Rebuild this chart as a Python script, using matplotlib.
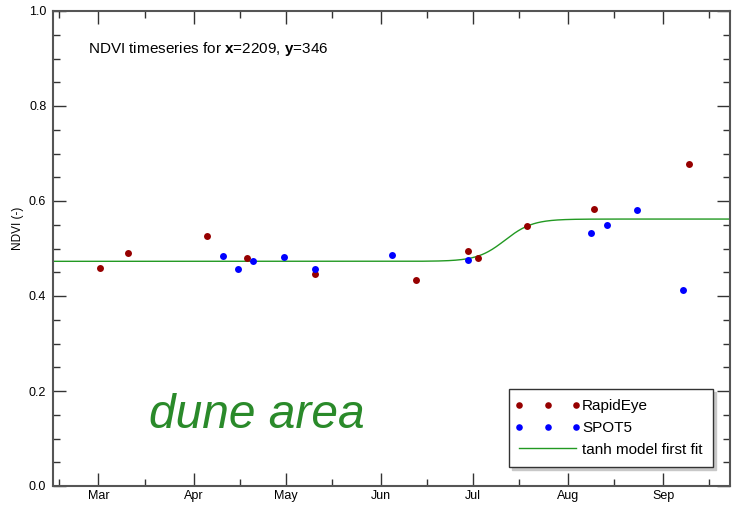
import datetime as dt

import numpy as np
import matplotlib
matplotlib.use('Agg')
import matplotlib.pyplot as plt
import matplotlib.dates as mdates
from matplotlib.legend_handler import HandlerLine2D

plt.rcParams['font.family'] = ['Liberation Sans', 'DejaVu Sans']
plt.rcParams['mathtext.fontset'] = 'custom'
plt.rcParams['mathtext.bf'] = 'Liberation Sans:bold'
plt.rcParams['mathtext.rm'] = 'Liberation Sans'

# acquisition dates and NDVI
RAPIDEYE_DATES = ['2011-03-01', '2011-03-10', '2011-04-05', '2011-04-18', '2011-05-10',
                  '2011-06-12', '2011-06-29', '2011-07-02', '2011-07-18', '2011-08-09',
                  '2011-09-09']
RAPIDEYE_NDVI = [0.458, 0.490, 0.526, 0.481, 0.446, 0.434, 0.495, 0.481, 0.547, 0.583, 0.677]

SPOT5_DATES = ['2011-04-10', '2011-04-15', '2011-04-20', '2011-04-30', '2011-05-10',
               '2011-06-04', '2011-06-29', '2011-08-08', '2011-08-13', '2011-08-23',
               '2011-09-07']
SPOT5_NDVI = [0.484, 0.457, 0.474, 0.482, 0.457, 0.486, 0.476, 0.533, 0.550, 0.582, 0.412]

# tanh model first fit: base level, upper level, midpoint, width (days)
FIT_LOW = 0.473
FIT_HIGH = 0.562
FIT_MID = dt.datetime(2011, 7, 11, 10)
FIT_WIDTH = 9.0

X_START = dt.datetime(2011, 2, 14, 7)
X_END = dt.datetime(2011, 9, 22, 17)

RED = '#960000'
BLUE = '#0000ff'
GREEN = '#229922'
SPINE = '#555555'


def to_dates(strings):
    # acquisitions are around midday
    return [dt.datetime.strptime(s, '%Y-%m-%d') + dt.timedelta(hours=12) for s in strings]


fig = plt.figure(figsize=(7.32, 5.05), dpi=100)
ax = fig.add_axes([53.3 / 732, 1 - 486 / 505, (730 - 53.3) / 732, (486 - 11) / 505])

# model curve over the whole axis range
t = mdates.drange(X_START, X_END, dt.timedelta(hours=6))
t_mid = mdates.date2num(FIT_MID)
a = (FIT_LOW + FIT_HIGH) / 2
b = (FIT_HIGH - FIT_LOW) / 2
ax.plot(t, a + b * np.tanh((t - t_mid) / FIT_WIDTH), color=GREEN, lw=1.0,
        label='tanh model first fit', zorder=2)

ax.plot(to_dates(RAPIDEYE_DATES), RAPIDEYE_NDVI, 'o', color=RED, ms=5, mew=0,
        label='RapidEye', zorder=3)
ax.plot(to_dates(SPOT5_DATES), SPOT5_NDVI, 'o', color=BLUE, ms=5, mew=0,
        label='SPOT5', zorder=3)

ax.set_xlim(X_START, X_END)
ax.set_ylim(0, 1)

ax.xaxis.set_major_locator(mdates.MonthLocator())
ax.xaxis.set_minor_locator(mdates.DayLocator(bymonthday=16))
ax.xaxis.set_major_formatter(mdates.DateFormatter('%b'))
ax.yaxis.set_major_locator(plt.MultipleLocator(0.2))
ax.yaxis.set_minor_locator(plt.MultipleLocator(0.05))
ax.yaxis.set_major_formatter(plt.FormatStrFormatter('%.1f'))

ax.tick_params(which='both', direction='in', top=True, right=True, color='#333333',
               width=1.0)
ax.tick_params(which='major', length=9.5, labelsize=9)
ax.tick_params(which='minor', length=5)
ax.tick_params(axis='x', pad=3)
ax.tick_params(axis='y', pad=5)
for spine in ax.spines.values():
    spine.set_color(SPINE)
    spine.set_linewidth(1.5)

fig.text(18 / 732, 1 - 228 / 505, 'NDVI (-)', rotation=90, ha='center', va='center',
         fontsize=8.5)

fig.text(88 / 732, 1 - 52.7 / 505, r'NDVI timeseries for $\mathbf{x}$=2209, $\mathbf{y}$=346',
         fontsize=11, va='baseline', ha='left')

fig.text(149 / 732, 1 - 427.7 / 505, 'dune area', fontsize=34.5, style='italic',
         color='#2a8a2a', va='baseline', ha='left')

handles, labels = ax.get_legend_handles_labels()
order = [1, 2, 0]
handles = [handles[i] for i in order]
labels = [labels[i] for i in order]
leg = fig.legend(handles, labels,
                 handler_map={h: HandlerLine2D(marker_pad=0) for h in handles},
                 loc='lower right', bbox_to_anchor=(713 / 732, 1 - 467 / 505),
                 borderaxespad=0, numpoints=3, handlelength=3.7, handletextpad=0.4,
                 labelspacing=0.5, borderpad=0.68, fontsize=11, fancybox=False,
                 shadow={'color': '#c8c8c8', 'alpha': 1.0}, framealpha=1,
                 edgecolor='#333333', markerscale=0.95)
leg.get_frame().set_linewidth(1.0)

fig.savefig('out.png', dpi=100, facecolor='white')
